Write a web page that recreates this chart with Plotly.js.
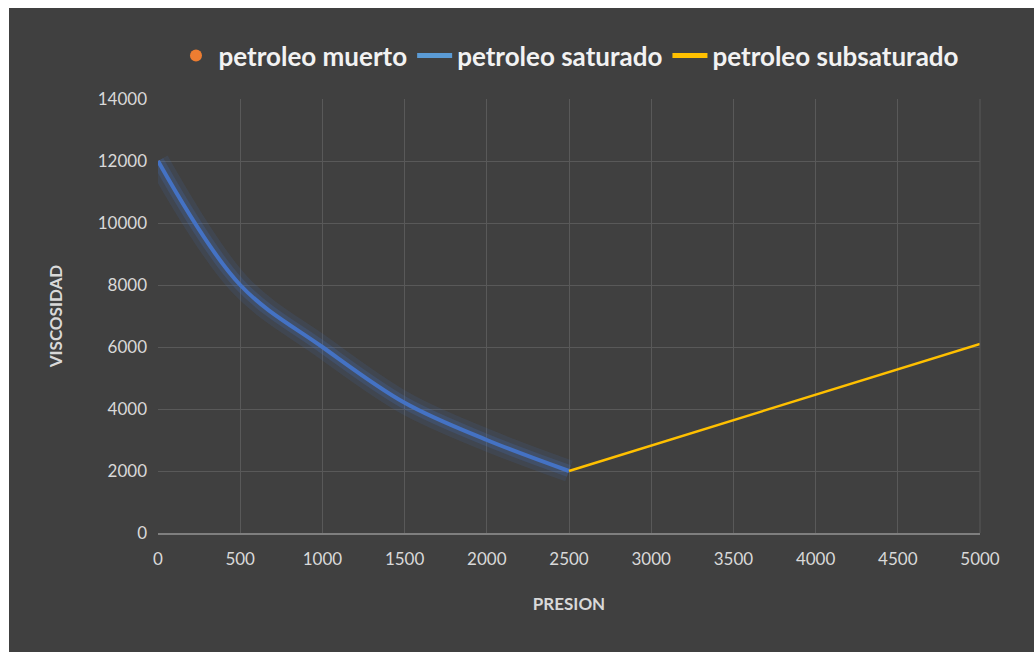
<!DOCTYPE html>
<html>
<head>
<meta charset="utf-8">
<script src="https://cdn.plot.ly/plotly-3.0.1.min.js"></script>
<style>
html,body{margin:0;padding:0;background:#ffffff;}
#chart{position:absolute;left:9px;top:8px;width:1025px;height:644px;}
</style>
</head>
<body>
<div id="chart"></div>
<script>
// Data
const muertoPresion = [0];
const muertoViscosidad = [12000];

const saturadoPresion = [0, 500, 1000, 1500, 2000, 2500];
const saturadoViscosidad = [12000, 8000, 6000, 4200, 3000, 2000];

const subsaturadoPresion = [2500, 5000];
const subsaturadoViscosidad = [2000, 6100];

const xTicks = [0, 500, 1000, 1500, 2000, 2500, 3000, 3500, 4000, 4500, 5000];
const yTicks = [0, 2000, 4000, 6000, 8000, 10000, 12000, 14000];

const FONT = 'Lato, "Open Sans", sans-serif';

const traces = [
  {
    x: muertoPresion, y: muertoViscosidad, name: 'petroleo muerto',
    mode: 'markers', type: 'scatter',
    marker: {color: '#ED7D31', size: 1}
  },
  {
    x: saturadoPresion, y: saturadoViscosidad, showlegend: false, hoverinfo: 'skip',
    mode: 'lines', type: 'scatter',
    line: {color: 'rgba(68,114,196,0.13)', width: 22, shape: 'spline', smoothing: 1}
  },
  {
    x: saturadoPresion, y: saturadoViscosidad, showlegend: false, hoverinfo: 'skip',
    mode: 'lines', type: 'scatter',
    line: {color: 'rgba(68,114,196,0.2)', width: 12, shape: 'spline', smoothing: 1}
  },
  {
    x: saturadoPresion, y: saturadoViscosidad, showlegend: false, name: 'petroleo saturado',
    mode: 'lines', type: 'scatter',
    line: {color: '#4472C4', width: 4, shape: 'spline', smoothing: 1}
  },
  {
    // legend entry for the saturated series (Excel shows a lighter, thinner swatch)
    x: [null], y: [null], name: 'petroleo saturado',
    mode: 'lines', type: 'scatter',
    line: {color: '#5B9BD5', width: 3}
  },
  {
    x: subsaturadoPresion, y: subsaturadoViscosidad, name: 'petroleo subsaturado',
    mode: 'lines', type: 'scatter',
    line: {color: '#FFC000', width: 2.5}
  }
];

const layout = {
  width: 1025, height: 644,
  paper_bgcolor: '#404040', plot_bgcolor: '#404040',
  margin: {l: 149, r: 54, t: 91, b: 119},
  font: {family: FONT, color: '#D9D9D9', size: 16},
  showlegend: true,
  legend: {
    orientation: 'h', x: 0.5, xanchor: 'center', y: 1.10, yanchor: 'middle',
    font: {family: FONT, size: 26, color: '#F2F2F2', weight: 'bold'},
    bgcolor: 'rgba(0,0,0,0)', itemwidth: 35, traceorder: 'normal', itemsizing: 'constant'
  },
  xaxis: {
    range: [0, 5000], tickvals: xTicks, ticktext: xTicks.map(String),
    showgrid: true, gridcolor: '#595959', gridwidth: 1,
    zeroline: false, showline: true, linecolor: '#7F7F7F', linewidth: 2,
    ticks: '', tickfont: {family: FONT, size: 17, color: '#D9D9D9'},
    ticklabelstandoff: 10,
    title: {text: 'PRESION', font: {family: FONT, size: 17, color: '#D9D9D9', weight: 'bold'}, standoff: 30}
  },
  yaxis: {
    range: [0, 14000], tickvals: yTicks, ticktext: yTicks.map(String),
    showgrid: true, gridcolor: '#595959', gridwidth: 1,
    zeroline: false, showline: false,
    ticks: '', tickfont: {family: FONT, size: 17, color: '#D9D9D9'},
    ticklabelstandoff: 10,
    title: {text: 'VISCOSIDAD', font: {family: FONT, size: 17, color: '#D9D9D9', weight: 'bold'}, standoff: 30}
  },
  shapes: [
    {type: 'line', xref: 'paper', yref: 'paper', x0: 1, x1: 1, y0: 0, y1: 1, line: {color: '#595959', width: 1}}
  ]
};

Plotly.newPlot('chart', traces, layout, {displayModeBar: false, staticPlot: true});
</script>
</body>
</html>
